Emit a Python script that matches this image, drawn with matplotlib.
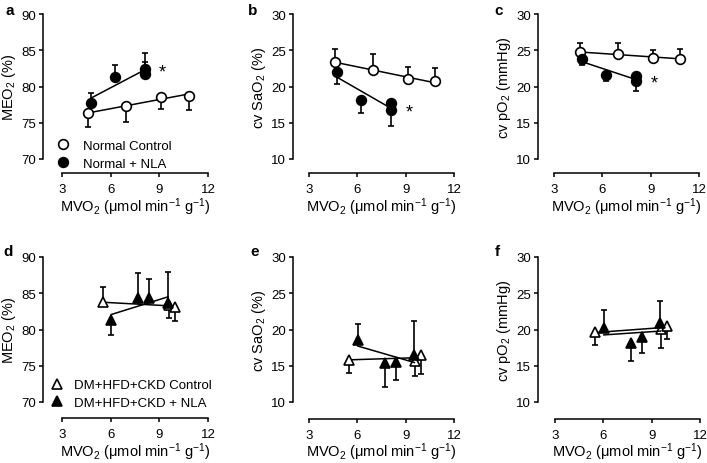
import matplotlib
matplotlib.use('Agg')
import matplotlib.pyplot as plt
import numpy as np
from matplotlib.lines import Line2D

plt.rcParams['font.family'] = ['Liberation Sans', 'DejaVu Sans']
plt.rcParams['mathtext.fontset'] = 'custom'
plt.rcParams['mathtext.rm'] = 'Liberation Sans'
plt.rcParams['mathtext.it'] = 'Liberation Sans:italic'
plt.rcParams['mathtext.bf'] = 'Liberation Sans:bold'

# ---------------- data ----------------
# Normal groups: MVO2 (x)
normal_ctrl_x = [4.63, 6.97, 9.12, 10.84]
normal_nla_x = [4.76, 6.24, 8.10, 8.12]
# DM+HFD+CKD groups: MVO2 (x)
dm_ctrl_x = [5.50, 9.58, 9.96]
dm_nla_x = [6.03, 7.69, 8.39, 9.54]

# panel a: MEO2 (%)
a_ctrl_y = [76.3, 77.3, 78.6, 78.75]
a_ctrl_lo = [1.9, 2.25, 1.7, 2.05]
a_ctrl_hi = [0, 0, 0, 0]
a_nla_y = [77.7, 81.3, 82.4, 81.7]
a_nla_lo = [0, 0, 0, 0]
a_nla_hi = [1.4, 1.65, 2.2, 1.7]

# panel b: cv SaO2 (%)
b_ctrl_y = [23.4, 22.3, 21.0, 20.7]
b_ctrl_lo = [0, 0, 0, 0]
b_ctrl_hi = [1.75, 2.2, 1.7, 1.9]
b_nla_y = [21.95, 18.1, 17.7, 16.8]
b_nla_lo = [1.55, 1.8, 1.5, 2.2]
b_nla_hi = [0, 0, 0, 0]

# panel c: cv pO2 (mmHg)
c_ctrl_y = [24.7, 24.55, 23.95, 23.85]
c_ctrl_lo = [0, 0, 0, 0]
c_ctrl_hi = [1.25, 1.5, 1.15, 1.3]
c_nla_y = [23.8, 21.6, 21.5, 20.7]
c_nla_lo = [0.8, 0.8, 1.0, 1.3]
c_nla_hi = [0, 0, 0, 0]

# panel d: MEO2 (%)
d_ctrl_y = [83.75, 83.4, 83.1]
d_ctrl_lo = [0, 1.8, 1.9]
d_ctrl_hi = [2.05, 0, 0]
d_nla_y = [81.3, 84.3, 84.3, 83.6]
d_nla_lo = [2.0, 0, 0, 0]
d_nla_hi = [0, 3.45, 2.6, 4.4]

# panel e: cv SaO2 (%)
e_ctrl_y = [15.85, 15.7, 16.5]
e_ctrl_lo = [1.85, 2.1, 2.6]
e_ctrl_hi = [0, 0, 0]
e_nla_y = [18.6, 15.4, 15.5, 16.5]
e_nla_lo = [0, 3.35, 2.5, 0]
e_nla_hi = [2.1, 0, 0, 4.7]

# panel f: cv pO2 (mmHg)
f_ctrl_y = [19.6, 20.05, 20.5]
f_ctrl_lo = [1.75, 2.6, 1.85]
f_ctrl_hi = [0, 0, 0]
f_nla_y = [20.2, 18.15, 18.9, 20.9]
f_nla_lo = [0, 2.5, 2.2, 0]
f_nla_hi = [2.5, 0, 0, 3.1]

x_ticks = [3, 6, 9, 12]
meo2_ticks = [70, 75, 80, 85, 90]
cv_ticks = [10, 15, 20, 25, 30]

x_label = 'MVO$_2$ (μmol min$^{-1}$ g$^{-1}$)'
y_labels = ['MEO$_2$ (%)', 'cv SaO$_2$ (%)', 'cv pO$_2$ (mmHg)']
panel_letters = ['a', 'b', 'c', 'd', 'e', 'f']
legend_top = ['Normal Control', 'Normal + NLA']
legend_bottom = ['DM+HFD+CKD Control', 'DM+HFD+CKD + NLA']
star_pos = [(9.2, 82.4), (9.25, 16.9), (9.25, 20.9)]

# ---------------- figure ----------------
W, H = 707, 464
fig = plt.figure(figsize=(W / 100, H / 100), dpi=100)
PT = 0.72  # points per pixel at dpi 100

TICK_FS = 9.5
LABEL_FS = 10.5
MS = 7
LW = 1.1


def make_ax(left_px, x3_px, x12_px, top_px, bot_px, axis_px, yticks):
    ax = fig.add_axes([left_px / W, 1 - bot_px / H, (x12_px - left_px) / W, (bot_px - top_px) / H])
    ppu = (x12_px - x3_px) / 9.0
    ax.set_xlim(3 - (x3_px - left_px) / ppu, 12)
    ax.set_ylim(yticks[0], yticks[-1])
    ax.set_xticks(x_ticks)
    ax.set_yticks(yticks)
    for s in ['top', 'right']:
        ax.spines[s].set_visible(False)
    ax.spines['bottom'].set_position(('outward', (axis_px - bot_px) * PT))
    ax.spines['bottom'].set_bounds(3, 12)
    for s in ['left', 'bottom']:
        ax.spines[s].set_linewidth(1.1)
    ax.tick_params(axis='both', direction='out', length=3.2, width=1.1, labelsize=TICK_FS, pad=2)
    ax.tick_params(axis='x', pad=4.3)
    ax.set_xlabel(x_label, fontsize=LABEL_FS, va='center')
    hpx = bot_px - top_px
    wpx = x12_px - left_px
    ax.xaxis.set_label_coords(((x3_px + x12_px) / 2 - left_px) / wpx,
                              1 - (axis_px + 33 - top_px) / hpx)
    return ax


def draw_series(ax, x, y, lo, hi, marker, filled, z):
    ax.errorbar(x, y, yerr=[lo, hi], fmt='none', ecolor='black', elinewidth=1.2,
                capsize=2.2, capthick=1.2, zorder=z, clip_on=False)
    ax.plot(x, y, ls='none', marker=marker, ms=MS, mec='black', mew=1.2,
            mfc='black' if filled else 'white', zorder=z + 0.5, clip_on=False)
    k, b = np.polyfit(x, y, 1)
    xs = np.array([min(x), max(x)])
    ax.plot(xs, k * xs + b, color='black', lw=LW, zorder=z + 0.2, clip_on=False)


layout = [
    # left, x3, x12, top, bottom, axis
    (43, 62, 208, 15, 160, 174, meo2_ticks),
    (293, 309, 454, 15, 160, 174, cv_ticks),
    (538, 554, 699, 15, 160, 174, cv_ticks),
    (43, 62, 208, 258, 403, 419, meo2_ticks),
    (293, 309, 454, 258, 403, 419.5, cv_ticks),
    (538, 555, 700, 258, 403, 419.5, cv_ticks),
]
axes = [make_ax(*l) for l in layout]

top_sets = [
    (a_ctrl_y, a_ctrl_lo, a_ctrl_hi, a_nla_y, a_nla_lo, a_nla_hi),
    (b_ctrl_y, b_ctrl_lo, b_ctrl_hi, b_nla_y, b_nla_lo, b_nla_hi),
    (c_ctrl_y, c_ctrl_lo, c_ctrl_hi, c_nla_y, c_nla_lo, c_nla_hi),
]
bot_sets = [
    (d_ctrl_y, d_ctrl_lo, d_ctrl_hi, d_nla_y, d_nla_lo, d_nla_hi),
    (e_ctrl_y, e_ctrl_lo, e_ctrl_hi, e_nla_y, e_nla_lo, e_nla_hi),
    (f_ctrl_y, f_ctrl_lo, f_ctrl_hi, f_nla_y, f_nla_lo, f_nla_hi),
]

for i, (cy, clo, chi, ny, nlo, nhi) in enumerate(top_sets):
    ax = axes[i]
    draw_series(ax, normal_ctrl_x, cy, clo, chi, 'o', False, 3)
    draw_series(ax, normal_nla_x, ny, nlo, nhi, 'o', True, 4)
    ax.text(star_pos[i][0], star_pos[i][1] - 0.45, '*', fontsize=13, ha='center', va='center')
    ax.set_ylabel(y_labels[i], fontsize=LABEL_FS, labelpad=2)

for i, (cy, clo, chi, ny, nlo, nhi) in enumerate(bot_sets):
    ax = axes[3 + i]
    draw_series(ax, dm_ctrl_x, cy, clo, chi, '^', False, 3)
    draw_series(ax, dm_nla_x, ny, nlo, nhi, '^', True, 4)
    ax.set_ylabel(y_labels[i], fontsize=LABEL_FS, labelpad=2)

# legends
h_open_c = Line2D([], [], ls='none', marker='o', ms=MS, mec='black', mfc='white', mew=1.2)
h_fill_c = Line2D([], [], ls='none', marker='o', ms=MS, mec='black', mfc='black', mew=1.2)
h_open_t = Line2D([], [], ls='none', marker='^', ms=MS, mec='black', mfc='white', mew=1.2)
h_fill_t = Line2D([], [], ls='none', marker='^', ms=MS, mec='black', mfc='black', mew=1.2)

leg_a = axes[0].legend([h_open_c, h_fill_c], legend_top, loc='center left',
                       bbox_to_anchor=((56.5 - 43) / 165, 1 - (155.5 - 15) / 145),
                       frameon=False, fontsize=TICK_FS, handlelength=1.0, handletextpad=1.0,
                       labelspacing=0.42, borderpad=0, borderaxespad=0)
leg_d = axes[3].legend([h_open_t, h_fill_t], legend_bottom, loc='center left',
                       bbox_to_anchor=((50.5 - 43) / 165, 1 - (395 - 258) / 145),
                       frameon=False, fontsize=TICK_FS, handlelength=1.0, handletextpad=0.8,
                       labelspacing=0.42, borderpad=0, borderaxespad=0)
for lg in (leg_a, leg_d):
    lg.set_zorder(1)

# panel letters
letter_pos = [(5, 11), (248, 11), (494, 11), (3, 252), (250, 252), (495, 252)]
for letter, (px, py) in zip(panel_letters, letter_pos):
    fig.text(px / W, 1 - py / H, letter, fontsize=11, fontweight='bold', ha='left', va='center')

fig.savefig('out.png', dpi=100)
